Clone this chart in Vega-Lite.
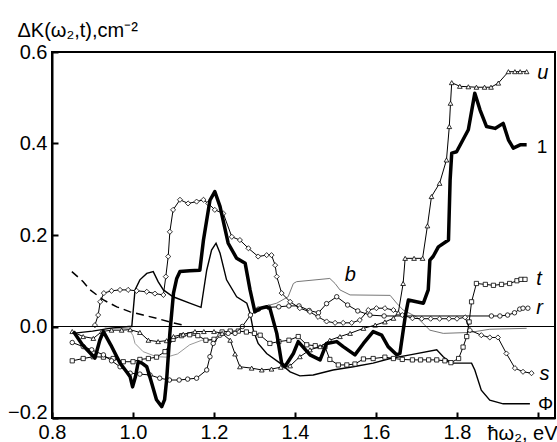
{
  "$schema": "https://vega.github.io/schema/vega-lite/v6.json",
  "width": 503,
  "height": 366,
  "autosize": "none",
  "padding": {"left": 52, "top": 52, "right": 2, "bottom": 24},
  "background": "white",
  "config": {
    "view": {"stroke": "black", "strokeWidth": 2},
    "font": "Liberation Sans",
    "axis": {
      "domainColor": "black", "domainWidth": 2, "tickColor": "black", "tickWidth": 2,
      "tickSize": -6, "labelFont": "Liberation Sans", "labelFontSize": 20, "labelColor": "black",
      "titleFont": "Liberation Sans", "titleFontSize": 20, "titleFontWeight": "normal", "titleColor": "black",
      "grid": false, "labelFlush": false
    }
  },
  "data": {"values": [
    {"k":"1","x":0.853,"y":-0.011},{"k":"1","x":0.875,"y":-0.04},{"k":"1","x":0.906,"y":-0.069},{"k":"1","x":0.918,"y":-0.03},{"k":"1","x":0.927,"y":-0.011},{"k":"1","x":0.945,"y":-0.04},{"k":"1","x":0.968,"y":-0.08},{"k":"1","x":0.985,"y":-0.1},{"k":"1","x":0.993,"y":-0.11},{"k":"1","x":0.999,"y":-0.132},{"k":"1","x":1.006,"y":-0.11},{"k":"1","x":1.013,"y":-0.077},{"k":"1","x":1.022,"y":-0.08},{"k":"1","x":1.034,"y":-0.088},{"k":"1","x":1.045,"y":-0.12},{"k":"1","x":1.058,"y":-0.16},{"k":"1","x":1.071,"y":-0.175},{"k":"1","x":1.078,"y":-0.16},{"k":"1","x":1.083,"y":-0.117},{"k":"1","x":1.091,"y":-0.015},{"k":"1","x":1.1,"y":0.073},{"k":"1","x":1.108,"y":0.105},{"k":"1","x":1.116,"y":0.12},{"k":"1","x":1.14,"y":0.122},{"k":"1","x":1.165,"y":0.123},{"k":"1","x":1.174,"y":0.189},{"k":"1","x":1.19,"y":0.276},{"k":"1","x":1.202,"y":0.295},{"k":"1","x":1.215,"y":0.262},{"k":"1","x":1.235,"y":0.182},{"k":"1","x":1.256,"y":0.149},{"k":"1","x":1.277,"y":0.138},{"k":"1","x":1.289,"y":0.08},{"k":"1","x":1.301,"y":0.032},{"k":"1","x":1.315,"y":0.04},{"k":"1","x":1.33,"y":0.043},{"k":"1","x":1.338,"y":0.04},{"k":"1","x":1.355,"y":-0.015},{"k":"1","x":1.367,"y":-0.08},{"k":"1","x":1.375,"y":-0.088},{"k":"1","x":1.396,"y":-0.059},{"k":"1","x":1.408,"y":-0.033},{"k":"1","x":1.425,"y":-0.05},{"k":"1","x":1.437,"y":-0.062},{"k":"1","x":1.462,"y":-0.073},{"k":"1","x":1.478,"y":-0.037},{"k":"1","x":1.503,"y":-0.033},{"k":"1","x":1.519,"y":-0.044},{"k":"1","x":1.548,"y":-0.062},{"k":"1","x":1.569,"y":-0.037},{"k":"1","x":1.593,"y":-0.011},{"k":"1","x":1.614,"y":-0.019},{"k":"1","x":1.63,"y":-0.044},{"k":"1","x":1.651,"y":-0.062},{"k":"1","x":1.659,"y":-0.059},{"k":"1","x":1.672,"y":0.021},{"k":"1","x":1.68,"y":0.058},{"k":"1","x":1.717,"y":0.051},{"k":"1","x":1.729,"y":0.08},{"k":"1","x":1.733,"y":0.145},{"k":"1","x":1.741,"y":0.153},{"k":"1","x":1.754,"y":0.174},{"k":"1","x":1.779,"y":0.189},{"k":"1","x":1.783,"y":0.32},{"k":"1","x":1.787,"y":0.379},{"k":"1","x":1.799,"y":0.382},{"k":"1","x":1.828,"y":0.43},{"k":"1","x":1.844,"y":0.51},{"k":"1","x":1.857,"y":0.473},{"k":"1","x":1.873,"y":0.437},{"k":"1","x":1.894,"y":0.433},{"k":"1","x":1.914,"y":0.444},{"k":"1","x":1.927,"y":0.408},{"k":"1","x":1.939,"y":0.39},{"k":"1","x":1.956,"y":0.397},{"k":"1","x":1.972,"y":0.397},

    {"k":"u","x":0.85,"y":-0.011},{"k":"u","x":0.877,"y":-0.022},{"k":"u","x":0.902,"y":-0.026},{"k":"u","x":0.923,"y":-0.011},{"k":"u","x":0.947,"y":-0.008},{"k":"u","x":0.972,"y":-0.008},{"k":"u","x":0.993,"y":-0.007},{"k":"u","x":1.017,"y":-0.013},{"k":"u","x":1.038,"y":-0.03},{"k":"u","x":1.062,"y":-0.033},{"k":"u","x":1.083,"y":-0.031},{"k":"u","x":1.1,"y":-0.022},{"k":"u","x":1.124,"y":-0.017},{"k":"u","x":1.153,"y":-0.011},{"k":"u","x":1.175,"y":-0.011},{"k":"u","x":1.2,"y":-0.011},{"k":"u","x":1.22,"y":-0.015},{"k":"u","x":1.24,"y":-0.03},{"k":"u","x":1.252,"y":-0.06},{"k":"u","x":1.264,"y":-0.088},{"k":"u","x":1.293,"y":-0.091},{"k":"u","x":1.318,"y":-0.095},{"k":"u","x":1.342,"y":-0.093},{"k":"u","x":1.365,"y":-0.089},{"k":"u","x":1.388,"y":-0.086},{"k":"u","x":1.412,"y":-0.066},{"k":"u","x":1.437,"y":-0.051},{"k":"u","x":1.462,"y":-0.044},{"k":"u","x":1.486,"y":-0.03},{"k":"u","x":1.511,"y":-0.022},{"k":"u","x":1.536,"y":-0.015},{"k":"u","x":1.569,"y":-0.004},{"k":"u","x":1.598,"y":0.003},{"k":"u","x":1.622,"y":0.01},{"k":"u","x":1.643,"y":0.018},{"k":"u","x":1.655,"y":0.03},{"k":"u","x":1.667,"y":0.094},{"k":"u","x":1.672,"y":0.149},{"k":"u","x":1.694,"y":0.149},{"k":"u","x":1.715,"y":0.149},{"k":"u","x":1.727,"y":0.22},{"k":"u","x":1.737,"y":0.284},{"k":"u","x":1.757,"y":0.313},{"k":"u","x":1.774,"y":0.364},{"k":"u","x":1.781,"y":0.437},{"k":"u","x":1.784,"y":0.488},{"k":"u","x":1.787,"y":0.533},{"k":"u","x":1.807,"y":0.525},{"k":"u","x":1.828,"y":0.524},{"k":"u","x":1.848,"y":0.523},{"k":"u","x":1.868,"y":0.523},{"k":"u","x":1.884,"y":0.523},{"k":"u","x":1.902,"y":0.532},{"k":"u","x":1.927,"y":0.557},{"k":"u","x":1.943,"y":0.557},{"k":"u","x":1.956,"y":0.557},{"k":"u","x":1.972,"y":0.557},

    {"k":"s","x":0.906,"y":0.003},{"k":"s","x":0.914,"y":0.025},{"k":"s","x":0.919,"y":0.054},{"k":"s","x":0.928,"y":0.073},{"k":"s","x":0.947,"y":0.078},{"k":"s","x":0.968,"y":0.08},{"k":"s","x":0.988,"y":0.08},{"k":"s","x":1.009,"y":0.078},{"k":"s","x":1.034,"y":0.076},{"k":"s","x":1.054,"y":0.072},{"k":"s","x":1.075,"y":0.069},{"k":"s","x":1.081,"y":0.109},{"k":"s","x":1.087,"y":0.153},{"k":"s","x":1.091,"y":0.207},{"k":"s","x":1.099,"y":0.255},{"k":"s","x":1.116,"y":0.277},{"k":"s","x":1.136,"y":0.269},{"k":"s","x":1.157,"y":0.273},{"k":"s","x":1.174,"y":0.277},{"k":"s","x":1.186,"y":0.269},{"k":"s","x":1.202,"y":0.255},{"k":"s","x":1.223,"y":0.247},{"k":"s","x":1.244,"y":0.196},{"k":"s","x":1.264,"y":0.189},{"k":"s","x":1.285,"y":0.171},{"k":"s","x":1.309,"y":0.153},{"k":"s","x":1.33,"y":0.156},{"k":"s","x":1.342,"y":0.156},{"k":"s","x":1.351,"y":0.134},{"k":"s","x":1.355,"y":0.109},{"k":"s","x":1.367,"y":0.073},{"k":"s","x":1.388,"y":0.054},{"k":"s","x":1.412,"y":0.04},{"k":"s","x":1.437,"y":0.032},{"k":"s","x":1.457,"y":0.021},{"k":"s","x":1.478,"y":0.011},{"k":"s","x":1.499,"y":0.008},{"k":"s","x":1.519,"y":0.008},{"k":"s","x":1.54,"y":0.008},{"k":"s","x":1.56,"y":0.014},{"k":"s","x":1.581,"y":0.036},{"k":"s","x":1.601,"y":0.04},{"k":"s","x":1.622,"y":0.04},{"k":"s","x":1.643,"y":0.036},{"k":"s","x":1.665,"y":0.025},{"k":"s","x":1.69,"y":0.018},{"k":"s","x":1.713,"y":0.017},{"k":"s","x":1.735,"y":0.017},{"k":"s","x":1.757,"y":0.017},{"k":"s","x":1.78,"y":0.017},{"k":"s","x":1.8,"y":0.017},{"k":"s","x":1.82,"y":0.02},{"k":"s","x":1.832,"y":-0.008},{"k":"s","x":1.86,"y":-0.019},{"k":"s","x":1.881,"y":-0.024},{"k":"s","x":1.901,"y":-0.024},{"k":"s","x":1.922,"y":-0.059},{"k":"s","x":1.943,"y":-0.091},{"k":"s","x":1.963,"y":-0.099},{"k":"s","x":1.984,"y":-0.102},

    {"k":"r","x":0.85,"y":-0.035},{"k":"r","x":0.877,"y":-0.044},{"k":"r","x":0.898,"y":-0.051},{"k":"r","x":0.927,"y":-0.062},{"k":"r","x":0.947,"y":-0.075},{"k":"r","x":0.968,"y":-0.088},{"k":"r","x":0.993,"y":-0.102},{"k":"r","x":1.017,"y":-0.104},{"k":"r","x":1.042,"y":-0.106},{"k":"r","x":1.066,"y":-0.113},{"k":"r","x":1.09,"y":-0.117},{"k":"r","x":1.114,"y":-0.117},{"k":"r","x":1.135,"y":-0.115},{"k":"r","x":1.157,"y":-0.113},{"k":"r","x":1.182,"y":-0.095},{"k":"r","x":1.19,"y":-0.066},{"k":"r","x":1.198,"y":-0.037},{"k":"r","x":1.215,"y":-0.019},{"k":"r","x":1.235,"y":-0.015},{"k":"r","x":1.252,"y":-0.015},{"k":"r","x":1.27,"y":0.0},{"k":"r","x":1.29,"y":0.025},{"k":"r","x":1.31,"y":0.038},{"k":"r","x":1.335,"y":0.042},{"k":"r","x":1.36,"y":0.043},{"k":"r","x":1.385,"y":0.045},{"k":"r","x":1.41,"y":0.045},{"k":"r","x":1.435,"y":0.035},{"k":"r","x":1.458,"y":0.03},{"k":"r","x":1.478,"y":0.05},{"k":"r","x":1.503,"y":0.065},{"k":"r","x":1.53,"y":0.047},{"k":"r","x":1.555,"y":0.034},{"k":"r","x":1.585,"y":0.025},{"k":"r","x":1.62,"y":0.023},{"k":"r","x":1.885,"y":0.023},{"k":"r","x":1.906,"y":0.023},{"k":"r","x":1.925,"y":0.025},{"k":"r","x":1.942,"y":0.03},{"k":"r","x":1.955,"y":0.038},{"k":"r","x":1.963,"y":0.04},{"k":"r","x":1.975,"y":0.04},

    {"k":"t","x":0.85,"y":-0.075},{"k":"t","x":0.877,"y":-0.07},{"k":"t","x":0.902,"y":-0.066},{"k":"t","x":0.927,"y":-0.067},{"k":"t","x":0.951,"y":-0.07},{"k":"t","x":0.976,"y":-0.077},{"k":"t","x":1.0,"y":-0.077},{"k":"t","x":1.017,"y":-0.072},{"k":"t","x":1.038,"y":-0.07},{"k":"t","x":1.058,"y":-0.067},{"k":"t","x":1.079,"y":-0.055},{"k":"t","x":1.099,"y":-0.028},{"k":"t","x":1.12,"y":-0.02},{"k":"t","x":1.14,"y":-0.018},{"k":"t","x":1.16,"y":-0.02},{"k":"t","x":1.18,"y":-0.03},{"k":"t","x":1.2,"y":-0.028},{"k":"t","x":1.22,"y":-0.012},{"k":"t","x":1.24,"y":-0.01},{"k":"t","x":1.26,"y":-0.01},{"k":"t","x":1.28,"y":-0.012},{"k":"t","x":1.3,"y":-0.015},{"k":"t","x":1.314,"y":-0.019},{"k":"t","x":1.338,"y":-0.037},{"k":"t","x":1.36,"y":-0.033},{"k":"t","x":1.385,"y":-0.03},{"k":"t","x":1.408,"y":-0.022},{"k":"t","x":1.429,"y":-0.04},{"k":"t","x":1.45,"y":-0.042},{"k":"t","x":1.474,"y":-0.044},{"k":"t","x":1.486,"y":-0.072},{"k":"t","x":1.507,"y":-0.084},{"k":"t","x":1.528,"y":-0.084},{"k":"t","x":1.548,"y":-0.082},{"k":"t","x":1.569,"y":-0.071},{"k":"t","x":1.593,"y":-0.07},{"k":"t","x":1.622,"y":-0.067},{"k":"t","x":1.643,"y":-0.07},{"k":"t","x":1.665,"y":-0.072},{"k":"t","x":1.69,"y":-0.073},{"k":"t","x":1.71,"y":-0.073},{"k":"t","x":1.73,"y":-0.073},{"k":"t","x":1.75,"y":-0.073},{"k":"t","x":1.77,"y":-0.075},{"k":"t","x":1.785,"y":-0.079},{"k":"t","x":1.804,"y":-0.07},{"k":"t","x":1.815,"y":-0.045},{"k":"t","x":1.824,"y":-0.022},{"k":"t","x":1.83,"y":0.01},{"k":"t","x":1.836,"y":0.054},{"k":"t","x":1.848,"y":0.094},{"k":"t","x":1.87,"y":0.092},{"k":"t","x":1.89,"y":0.09},{"k":"t","x":1.91,"y":0.092},{"k":"t","x":1.93,"y":0.094},{"k":"t","x":1.948,"y":0.1},{"k":"t","x":1.958,"y":0.103},{"k":"t","x":1.968,"y":0.103},

    {"k":"F","x":0.85,"y":-0.015},{"k":"F","x":0.9,"y":-0.01},{"k":"F","x":0.95,"y":-0.003},{"k":"F","x":0.99,"y":0.0},{"k":"F","x":0.997,"y":0.0},{"k":"F","x":1.005,"y":0.08},{"k":"F","x":1.017,"y":0.102},{"k":"F","x":1.034,"y":0.116},{"k":"F","x":1.05,"y":0.12},{"k":"F","x":1.062,"y":0.098},{"k":"F","x":1.075,"y":0.08},{"k":"F","x":1.099,"y":0.065},{"k":"F","x":1.14,"y":0.051},{"k":"F","x":1.168,"y":0.042},{"k":"F","x":1.172,"y":0.065},{"k":"F","x":1.182,"y":0.123},{"k":"F","x":1.194,"y":0.167},{"k":"F","x":1.205,"y":0.182},{"k":"F","x":1.215,"y":0.16},{"k":"F","x":1.231,"y":0.102},{"k":"F","x":1.256,"y":0.065},{"k":"F","x":1.281,"y":0.051},{"k":"F","x":1.289,"y":0.029},{"k":"F","x":1.297,"y":-0.008},{"k":"F","x":1.309,"y":-0.037},{"k":"F","x":1.33,"y":-0.059},{"k":"F","x":1.363,"y":-0.08},{"k":"F","x":1.388,"y":-0.099},{"k":"F","x":1.412,"y":-0.108},{"k":"F","x":1.445,"y":-0.106},{"k":"F","x":1.494,"y":-0.095},{"k":"F","x":1.544,"y":-0.088},{"k":"F","x":1.593,"y":-0.08},{"k":"F","x":1.635,"y":-0.07},{"k":"F","x":1.684,"y":-0.062},{"k":"F","x":1.75,"y":-0.051},{"k":"F","x":1.766,"y":-0.066},{"k":"F","x":1.786,"y":-0.08},{"k":"F","x":1.836,"y":-0.08},{"k":"F","x":1.844,"y":-0.095},{"k":"F","x":1.86,"y":-0.139},{"k":"F","x":1.881,"y":-0.161},{"k":"F","x":1.914,"y":-0.169},{"k":"F","x":1.98,"y":-0.169},

    {"k":"b","x":1.305,"y":0.036},{"k":"b","x":1.33,"y":0.045},{"k":"b","x":1.355,"y":0.051},{"k":"b","x":1.383,"y":0.065},{"k":"b","x":1.396,"y":0.094},{"k":"b","x":1.404,"y":0.098},{"k":"b","x":1.486,"y":0.105},{"k":"b","x":1.499,"y":0.094},{"k":"b","x":1.511,"y":0.08},{"k":"b","x":1.536,"y":0.069},{"k":"b","x":1.635,"y":0.068},{"k":"b","x":1.651,"y":0.051},{"k":"b","x":1.667,"y":0.036},{"k":"b","x":1.7,"y":0.021},{"k":"b","x":1.733,"y":-0.008},{"k":"b","x":1.766,"y":-0.015},{"k":"b","x":1.832,"y":-0.013},{"k":"b","x":1.881,"y":-0.006},{"k":"b","x":1.972,"y":-0.004},

    {"k":"g","x":0.93,"y":-0.003},{"k":"g","x":0.99,"y":-0.005},{"k":"g","x":1.0,"y":-0.02},{"k":"g","x":1.005,"y":-0.037},{"k":"g","x":1.025,"y":-0.055},{"k":"g","x":1.058,"y":-0.066},{"k":"g","x":1.083,"y":-0.067},{"k":"g","x":1.11,"y":-0.06},{"k":"g","x":1.14,"y":-0.04},{"k":"g","x":1.17,"y":-0.03},{"k":"g","x":1.2,"y":-0.03},

    {"k":"d","x":0.849,"y":0.12},{"k":"d","x":0.877,"y":0.098},{"k":"d","x":0.894,"y":0.08},{"k":"d","x":0.927,"y":0.058},{"k":"d","x":0.96,"y":0.043},{"k":"d","x":0.993,"y":0.032},{"k":"d","x":1.025,"y":0.025},{"k":"d","x":1.058,"y":0.018},{"k":"d","x":1.09,"y":0.01},{"k":"d","x":1.124,"y":0.003},

    {"k":"Li","x":1.998,"y":0.555,"t":"u"},{"k":"Li","x":1.996,"y":0.103,"t":"t"},{"k":"Li","x":1.996,"y":0.04,"t":"r"},{"k":"Li","x":2.004,"y":-0.104,"t":"s"},{"k":"Li","x":1.523,"y":0.113,"t":"b"},
    {"k":"Lu","x":1.997,"y":0.393,"t":"1"},{"k":"Lu","x":2.0,"y":-0.169,"t":"Φ"}
  ]},
  "encoding": {
    "x": {"field": "x", "type": "quantitative", "scale": {"domain": [0.8, 2.042], "nice": false, "zero": false},
      "axis": {"values": [0.8, 1.0, 1.2, 1.4, 1.6, 1.8, 2.0], "labelExpr": "datum.value > 1.9 ? '' : format(datum.value, '.1f')", "labelPadding": 10, "title": "ħω₂, eV", "titleAlign": "right", "titleAnchor": "end", "titleX": 505, "titleY": 21, "titleBaseline": "alphabetic"}},
    "y": {"field": "y", "type": "quantitative", "scale": {"domain": [-0.2, 0.6], "nice": false, "zero": false},
      "axis": {"values": [-0.2, 0, 0.2, 0.4, 0.6], "format": ".1f", "labelPadding": 11,
        "labelBaseline": {"condition": {"test": "datum.value < -0.1", "value": "alphabetic"}, "value": "middle"},
        "title": "ΔK(ω₂,t),cm⁻²", "titleAngle": 0, "titleAlign": "left", "titleAnchor": "start", "titleX": -35, "titleY": -16, "titleBaseline": "alphabetic"}}
  },
  "layer": [
    {"transform": [{"filter": "datum.k === 'g'"}], "mark": {"type": "line", "color": "#999999", "strokeWidth": 1}},
    {"transform": [{"filter": "datum.k === 'b'"}], "mark": {"type": "line", "color": "#777777", "strokeWidth": 1}},
    {"transform": [{"filter": "datum.k === 'd'"}], "mark": {"type": "line", "color": "black", "strokeWidth": 1.5, "strokeDash": [8, 5]}},
    {"transform": [{"filter": "datum.k === 'F'"}], "mark": {"type": "line", "color": "black", "strokeWidth": 1.4}},
    {"transform": [{"filter": "datum.k === 't'"}], "mark": {"type": "line", "color": "black", "strokeWidth": 1, "point": {"filled": true, "fill": "white", "stroke": "black", "strokeWidth": 0.8, "shape": "square", "size": 18}}},
    {"transform": [{"filter": "datum.k === 'r'"}], "mark": {"type": "line", "color": "black", "strokeWidth": 1, "point": {"filled": true, "fill": "white", "stroke": "black", "strokeWidth": 0.8, "shape": "circle", "size": 20}}},
    {"transform": [{"filter": "datum.k === 's'"}], "mark": {"type": "line", "color": "black", "strokeWidth": 1, "point": {"filled": true, "fill": "white", "stroke": "black", "strokeWidth": 0.8, "shape": "diamond", "size": 26}}},
    {"transform": [{"filter": "datum.k === 'u'"}], "mark": {"type": "line", "color": "black", "strokeWidth": 1, "point": {"filled": true, "fill": "white", "stroke": "black", "strokeWidth": 0.8, "shape": "triangle-up", "size": 22}}},
    {"transform": [{"filter": "datum.k === '1'"}], "mark": {"type": "line", "color": "black", "strokeWidth": 3.5, "strokeJoin": "round"}},
    {"mark": {"type": "rule", "color": "black", "strokeWidth": 1.2}, "encoding": {"y": {"datum": 0}, "x": {"datum": 0.8}, "x2": {"datum": 2.042}}},
    {"transform": [{"filter": "datum.k === 'Li'"}], "mark": {"type": "text", "font": "Liberation Sans", "fontSize": 20, "fontStyle": "italic", "align": "left", "baseline": "middle"}, "encoding": {"text": {"field": "t"}}},
    {"transform": [{"filter": "datum.k === 'Lu'"}], "mark": {"type": "text", "font": "Liberation Sans", "fontSize": 19, "align": "left", "baseline": "middle"}, "encoding": {"text": {"field": "t"}}}
  ]
}
